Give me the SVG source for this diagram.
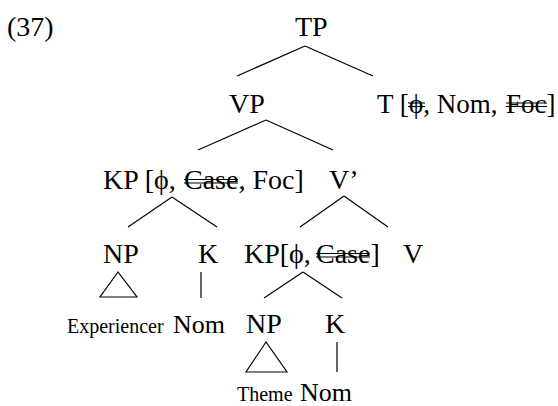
<svg xmlns="http://www.w3.org/2000/svg" width="558" height="406" viewBox="0 0 558 406">
<style>
text{font-family:"Liberation Serif","Times New Roman",serif;fill:#000;font-size:28px}
.sm{font-size:20px}
.nm{font-size:26px}
.tl{font-size:27px}
line,polygon{stroke:#000;stroke-width:1.2;fill:none}
.st{stroke-width:1.1}
</style>
<rect width="558" height="406" fill="#fff"/>
<text id="label" x="7" y="36">(37)</text>
<g id="TP"><text x="295" y="36">TP</text></g>
<g id="VP"><text x="229" y="113">VP</text></g>
<g id="T"><text class="tl" x="377" y="113">T [<tspan x="409">ϕ</tspan>, Nom, <tspan x="506">Foc</tspan>]</text>
<line class="st" x1="408" y1="103" x2="425" y2="103"/><line class="st" x1="408" y1="106.5" x2="425" y2="106.5"/>
<line class="st" x1="506" y1="103" x2="547" y2="103"/><line class="st" x1="506" y1="106.5" x2="547" y2="106.5"/></g>
<g id="KP1"><text x="103" y="189">KP [ϕ, <tspan x="184">Case</tspan>, Foc]</text>
<line class="st" x1="184" y1="179.5" x2="238" y2="179.5"/><line class="st" x1="184" y1="183" x2="238" y2="183"/></g>
<g id="Vbar"><text x="329" y="189">V’</text></g>
<g id="NP1"><text x="103" y="263">NP</text><polygon points="118,272 100,297 137,297"/></g>
<g id="K1"><text x="198" y="263">K</text></g>
<g id="KP2"><text x="244" y="263">KP[ϕ, <tspan x="316">Case</tspan>]</text>
<line class="st" x1="316" y1="253.5" x2="370" y2="253.5"/><line class="st" x1="316" y1="257" x2="370" y2="257"/></g>
<g id="V"><text x="403" y="263">V</text></g>
<g id="Experiencer"><text class="sm" x="67" y="333">Experiencer</text></g>
<g id="Nom1"><text class="nm" x="173" y="333">Nom</text></g>
<g id="NP2"><text x="246" y="333">NP</text><polygon points="266,342 246,372 287,372"/></g>
<g id="K2"><text x="325" y="333">K</text></g>
<g id="Theme"><text class="sm" x="237" y="401">Theme</text></g>
<g id="Nom2"><text class="nm" x="300" y="401">Nom</text></g>
<g id="connectors">
<line x1="305" y1="46" x2="237" y2="76"/><line x1="305" y1="46" x2="373" y2="76"/>
<line x1="266" y1="120" x2="198" y2="150"/><line x1="266" y1="120" x2="333" y2="150"/>
<line x1="172" y1="197" x2="128" y2="227"/><line x1="172" y1="197" x2="217" y2="227"/>
<line x1="344" y1="196" x2="300" y2="227"/><line x1="344" y1="196" x2="388" y2="227"/>
<line x1="201" y1="272" x2="201" y2="298"/>
<line x1="303" y1="272" x2="264" y2="298"/><line x1="303" y1="272" x2="342" y2="298"/>
<line x1="337" y1="342" x2="337" y2="372"/>
</g>
</svg>
